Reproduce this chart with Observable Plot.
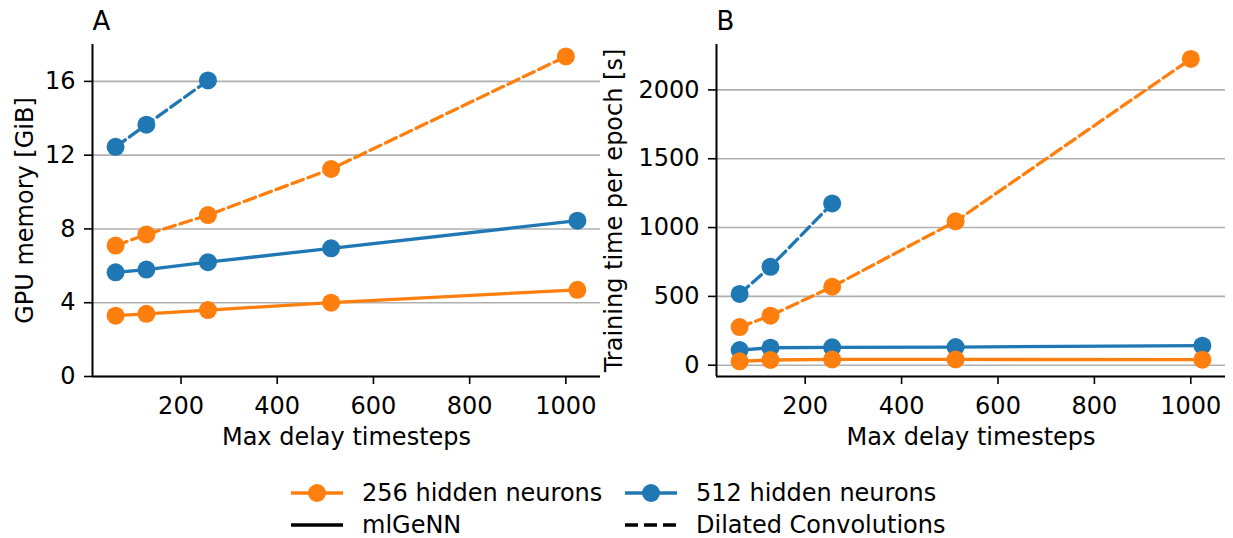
<!DOCTYPE html>
<html><head><meta charset="utf-8">
<script src="https://cdn.jsdelivr.net/npm/d3@7"></script>
<script src="https://cdn.jsdelivr.net/npm/@observablehq/plot@0.6"></script>
<style>
body{margin:0;background:#fff;font-family:"DejaVu Sans",sans-serif;}
#wrap{width:1233px;height:538px;position:relative;overflow:hidden;}
#row{display:flex;height:460px;}
#row svg, #legend svg{display:block;}
</style></head><body><div id="wrap"><div id="row"></div><div id="legend"></div></div>
<script>
// Max delay timesteps
const delaysMl = [64, 128, 256, 512, 1024];
const delaysDc256 = [64, 128, 256, 512, 1000];
const delaysDc512 = [64, 128, 256];

// Panel A: GPU memory [GiB]
const memMl256 = [3.3, 3.4, 3.6, 4.0, 4.7];
const memMl512 = [5.65, 5.8, 6.2, 6.95, 8.45];
const memDc256 = [7.1, 7.7, 8.75, 11.25, 17.35];
const memDc512 = [12.45, 13.65, 16.05];

// Panel B: Training time per epoch [s]
const timeMl256 = [28, 38, 42, 42, 40];
const timeMl512 = [110, 127, 130, 132, 142];
const timeDc256 = [277, 360, 570, 1045, 2225];
const timeDc512 = [518, 715, 1175];

const neuronLabels = ["256 hidden neurons", "512 hidden neurons"];
const methodLabels = ["mlGeNN", "Dilated Convolutions"];
const colors = ["#ff7f0e", "#1f77b4"];
const memTicks = [0, 4, 8, 12, 16];
const timeTicks = [0, 500, 1000, 1500, 2000];
const xTicks = [200, 400, 600, 800, 1000];

function rows(xs, ys, neurons, method) {
  return xs.map((x, i) => ({x, y: ys[i], neurons, method, key: neurons + "|" + method}));
}
const memData = [
  ...rows(delaysMl, memMl512, neuronLabels[1], methodLabels[0]),
  ...rows(delaysMl, memMl256, neuronLabels[0], methodLabels[0]),
  ...rows(delaysDc256, memDc256, neuronLabels[0], methodLabels[1]),
  ...rows(delaysDc512, memDc512, neuronLabels[1], methodLabels[1])
];
const timeData = [
  ...rows(delaysMl, timeMl512, neuronLabels[1], methodLabels[0]),
  ...rows(delaysMl, timeMl256, neuronLabels[0], methodLabels[0]),
  ...rows(delaysDc256, timeDc256, neuronLabels[0], methodLabels[1]),
  ...rows(delaysDc512, timeDc512, neuronLabels[1], methodLabels[1])
];

const FS = 24;
const fmt = d3.format("d");
function panel({data, width, marginLeft, marginRight, yDomain, yTicks, ylabel, ylabelDx, letter}) {
  const xDomain = [16, 1072];
  return Plot.plot({
    width, height: 460,
    marginLeft, marginRight, marginTop: 44, marginBottom: 84,
    style: {fontFamily: "DejaVu Sans", fontSize: FS + "px", color: "#000", background: "#fff", overflow: "visible"},
    x: {domain: xDomain},
    y: {domain: yDomain},
    color: {domain: neuronLabels, range: colors},
    marks: [
      Plot.ruleY(yTicks, {stroke: "#b0b0b0", strokeWidth: 1.6, strokeOpacity: 1}),
      Plot.ruleX([xDomain[0]], {stroke: "#000", strokeWidth: 2}),
      Plot.ruleY([yDomain[0]], {stroke: "#000", strokeWidth: 2}),
      Plot.axisY({ticks: yTicks, tickFormat: fmt, tickSize: 8, tickPadding: 9, label: null, fontSize: FS, strokeWidth: 1.6}),
      Plot.axisX({ticks: xTicks, tickFormat: fmt, tickSize: 8, tickPadding: 12, label: null, fontSize: FS, strokeWidth: 1.6}),
      Plot.line(data.filter(d => d.method === methodLabels[0]), {x: "x", y: "y", z: "key", stroke: "neurons", strokeWidth: 3.3}),
      Plot.line(data.filter(d => d.method === methodLabels[1]), {x: "x", y: "y", z: "key", stroke: "neurons", strokeWidth: 3.3, strokeDasharray: "12,5"}),
      Plot.dot(data, {x: "x", y: "y", fill: "neurons", r: 9, stroke: null}),
      Plot.text([ylabel], {frameAnchor: "left", dx: ylabelDx, rotate: -90, textAnchor: "middle", lineAnchor: "middle", fontSize: FS, fill: "#000"}),
      Plot.text(["Max delay timesteps"], {frameAnchor: "bottom", dy: 61, textAnchor: "middle", lineAnchor: "middle", fontSize: FS, fill: "#000"}),
      Plot.text([letter], {frameAnchor: "top-left", dy: -23, textAnchor: "start", lineAnchor: "middle", fontSize: 26, fill: "#000"})
    ]
  });
}

const row = document.getElementById("row");
row.appendChild(panel({data: memData, width: 605, marginLeft: 92, marginRight: 5,
  yDomain: [0, 18], yTicks: memTicks, ylabel: "GPU memory [GiB]", ylabelDx: -67, letter: "A"}));
row.appendChild(panel({data: timeData, width: 628, marginLeft: 111, marginRight: 8,
  yDomain: [-82, 2330], yTicks: timeTicks, ylabel: "Training time per epoch [s]", ylabelDx: -102, letter: "B"}));

// Legend below the panels
const lg = d3.select("#legend").append("svg").attr("width", 1233).attr("height", 78)
  .style("font-family", "DejaVu Sans").style("font-size", FS + "px");
const items = [
  {x: 291, y: 33, color: colors[0], dot: true, dash: null, text: neuronLabels[0]},
  {x: 625, y: 33, color: colors[1], dot: true, dash: null, text: neuronLabels[1]},
  {x: 291, y: 65, color: "#000", dot: false, dash: null, text: methodLabels[0]},
  {x: 625, y: 65, color: "#000", dot: false, dash: "13,6", text: methodLabels[1]}
];
for (const it of items) {
  const g = lg.append("g");
  g.append("line").attr("x1", it.x).attr("x2", it.x + 52).attr("y1", it.y).attr("y2", it.y)
    .attr("stroke", it.color).attr("stroke-width", 3.3).attr("stroke-dasharray", it.dash);
  if (it.dot) g.append("circle").attr("cx", it.x + 26).attr("cy", it.y).attr("r", 9).attr("fill", it.color);
  g.append("text").attr("x", it.x + 71).attr("y", it.y).attr("dy", "0.35em").text(it.text);
}
</script></body></html>
